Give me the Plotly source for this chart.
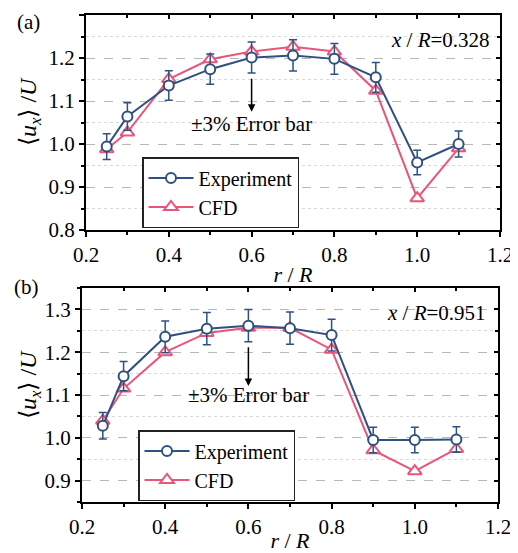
import plotly.graph_objects as go

# ---- data ----
r = [0.25, 0.3, 0.4, 0.5, 0.6, 0.7, 0.8, 0.9, 1.0, 1.1]
exp_a = [0.994, 1.064, 1.136, 1.174, 1.201, 1.206, 1.198, 1.155, 0.957, 1.000]
cfd_a = [0.988, 1.027, 1.151, 1.197, 1.215, 1.226, 1.215, 1.124, 0.874, 0.990]
exp_b = [1.028, 1.144, 1.236, 1.255, 1.262, 1.256, 1.240, 0.995, 0.995, 0.996]
cfd_b = [1.040, 1.115, 1.200, 1.245, 1.257, 1.257, 1.206, 0.971, 0.922, 0.974]
err_frac = 0.03  # ±3% error bar
series_names = ["Experiment", "CFD"]
panel_labels = ["(a)", "(b)"]
pos_labels = ["<i>x</i> / <i>R</i>=0.328", "<i>x</i> / <i>R</i>=0.951"]
y_title = "\u27e8<i>u</i><sub><i>x</i></sub>\u27e9 /<i>U</i>"
x_title = "<i>r</i> / <i>R</i>"

OFF = 8  # default page body margin
W, H = 518 - OFF, 553 - OFF
BLUE = "#2f5180"
PINK = "#e8567a"
FONT = "Times New Roman, Liberation Serif, serif"


def px(x):
    return (x - OFF) / W


def py(y):
    return 1 - (y - OFF) / H


fig = go.Figure()


def add_panel(exp, cfd, xa, ya, legend):
    fig.add_trace(go.Scatter(
        x=r, y=cfd, name=series_names[1], mode="lines+markers",
        xaxis=xa, yaxis=ya, legend=legend, legendrank=2,
        line=dict(color=PINK, width=2),
        marker=dict(symbol="triangle-up", size=12, color="white",
                    line=dict(color=PINK, width=2)),
    ))
    fig.add_trace(go.Scatter(
        x=r, y=exp, name=series_names[0], mode="lines+markers",
        xaxis=xa, yaxis=ya, legend=legend, legendrank=1,
        line=dict(color=BLUE, width=2),
        marker=dict(symbol="circle", size=10, color="white",
                    line=dict(color=BLUE, width=2)),
        error_y=dict(type="data", array=[err_frac * v for v in exp],
                     color=BLUE, thickness=1.5, width=4),
    ))


add_panel(exp_a, cfd_a, "x", "y", "legend")
add_panel(exp_b, cfd_b, "x2", "y2", "legend2")

# dummy traces so the mirrored tick axes are drawn
for xa, ya in [("x3", "y"), ("x", "y3"), ("x4", "y2"), ("x2", "y4")]:
    fig.add_trace(go.Scatter(x=[None], y=[None], xaxis=xa, yaxis=ya,
                             showlegend=False, hoverinfo="skip"))

tickfont = dict(family=FONT, size=21, color="black")
base = dict(showline=True, linewidth=2, linecolor="black", mirror=True,
            ticks="outside", ticklen=5, tickwidth=2, tickcolor="black",
            tickfont=tickfont, zeroline=False, automargin=False)


def xax(domain, anchor):
    return dict(base, range=[0.2, 1.2], dtick=0.2, tick0=0.2, tickformat=".1f",
                showgrid=False, domain=domain, anchor=anchor,
                minor=dict(dtick=0.1, ticks="outside", ticklen=3, tickwidth=2,
                           tickcolor="black"),
                title=dict(text=x_title,
                           font=dict(family=FONT, size=22, color="black"),
                           standoff=0))


def yax(domain, anchor, rng, tick0):
    return dict(base, range=rng, dtick=0.1, tick0=tick0, tickformat=".1f",
                showgrid=True, gridcolor="#b8b8b8", griddash="dash", gridwidth=1,
                domain=domain, anchor=anchor,
                minor=dict(dtick=0.05, ticks="outside", ticklen=3, tickwidth=2,
                           tickcolor="black", showgrid=True, gridcolor="#d8d8d8",
                           griddash="dot", gridwidth=1))


def xmirror(over, anchor):
    return dict(overlaying=over, anchor=anchor, side="top", range=[0.2, 1.2],
                dtick=0.2, tick0=0.2, showticklabels=False, showgrid=False,
                showline=False, zeroline=False, ticks="inside", ticklen=4,
                tickwidth=2, tickcolor="black", automargin=False,
                minor=dict(dtick=0.1, ticks="inside", ticklen=3, tickwidth=2,
                           tickcolor="black"))


def ymirror(over, anchor, rng, tick0):
    return dict(overlaying=over, anchor=anchor, side="right", range=rng,
                dtick=0.1, tick0=tick0, showticklabels=False, showgrid=False,
                showline=False, zeroline=False, ticks="inside", ticklen=4,
                tickwidth=2, tickcolor="black", automargin=False,
                minor=dict(dtick=0.05, ticks="inside", ticklen=3, tickwidth=2,
                           tickcolor="black"))


ya_dom = [py(230), py(15)]
yb_dom = [py(502), py(288)]
xa_dom = [px(86), px(500)]
xb_dom = [px(82), px(498)]
rng_a = [0.8, 1.3]
rng_b = [0.85, 1.35]

legend_style = dict(font=dict(family=FONT, size=20, color="black"),
                    bordercolor="#222222", borderwidth=1.5, bgcolor="white",
                    xanchor="left", yanchor="top", itemwidth=45,
                    traceorder="normal", tracegroupgap=0)

ann = []
for txt, x, y in [(panel_labels[0], px(28), 1.0),
                  (panel_labels[1], px(26), py(287))]:
    ann.append(dict(text=txt, x=x, y=y, xref="paper", yref="paper",
                    showarrow=False, xanchor="center",
                    yanchor="top" if y >= 1.0 else "middle",
                    font=dict(family=FONT, size=21, color="black")))
# y-axis titles
for yc in [112, 385]:
    ann.append(dict(text=y_title, x=px(30), y=py(yc), xref="paper", yref="paper",
                    showarrow=False, xanchor="center", yanchor="middle",
                    textangle=-90,
                    font=dict(family=FONT, size=24, color="black")))
ann.append(dict(text=pos_labels[0], x=1.18, y=1.243, xref="x", yref="y",
                showarrow=False, xanchor="right", yanchor="middle",
                font=dict(family=FONT, size=21, color="black")))
ann.append(dict(text=pos_labels[1], x=1.176, y=1.292, xref="x2", yref="y2",
                showarrow=False, xanchor="right", yanchor="middle",
                font=dict(family=FONT, size=21, color="black")))
for xr, yr, ty, head, tail in [("x", "y", 1.047, 1.075, 1.155),
                                ("x2", "y2", 1.100, 1.121, 1.215)]:
    ann.append(dict(text="\u00b13% Error bar", x=0.6, y=ty, xref=xr, yref=yr,
                    showarrow=False, xanchor="center", yanchor="middle",
                    font=dict(family=FONT, size=21, color="black")))
    ann.append(dict(text="", x=0.6, y=head, ax=0.6, ay=tail, xref=xr, yref=yr,
                    axref=xr, ayref=yr, showarrow=True, arrowhead=2,
                    arrowsize=1, arrowwidth=1.5, arrowcolor="black"))

fig.update_layout(
    template="none",
    width=W, height=H,
    margin=dict(l=0, r=0, t=0, b=0),
    paper_bgcolor="white", plot_bgcolor="white",
    font=dict(family=FONT, color="black"),
    xaxis=xax(xa_dom, "y"),
    yaxis=yax(ya_dom, "x", rng_a, 0.8),
    xaxis2=xax(xb_dom, "y2"),
    yaxis2=yax(yb_dom, "x2", rng_b, 0.9),
    xaxis3=xmirror("x", "y"),
    yaxis3=ymirror("y", "x", rng_a, 0.8),
    xaxis4=xmirror("x2", "y2"),
    yaxis4=ymirror("y2", "x2", rng_b, 0.9),
    legend=dict(legend_style, x=px(142), y=py(157)),
    legend2=dict(legend_style, x=px(138), y=py(430)),
    annotations=ann,
    showlegend=True,
)

fig.write_html("out.html")
